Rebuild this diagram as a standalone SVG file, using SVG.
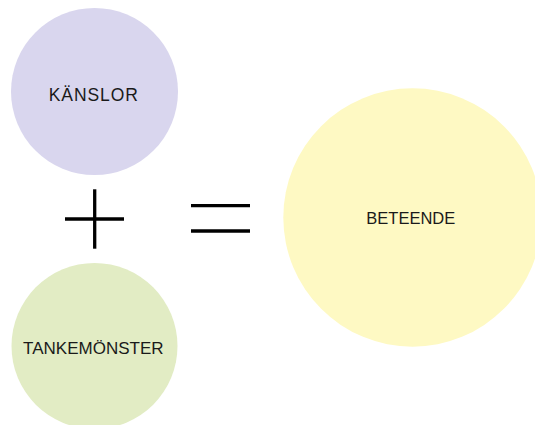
<svg xmlns="http://www.w3.org/2000/svg" width="535" height="425" viewBox="0 0 535 425">
<style>
.lbl{font-family:"Liberation Sans",Arial,Helvetica,sans-serif;fill:#1a1a1a;text-anchor:middle}
.op{stroke:#000;stroke-width:3.3;fill:none}
</style>
<rect width="535" height="425" fill="#fff"/>
<g id="kanslor">
<circle cx="94.5" cy="91.5" r="83.5" fill="#d9d6ee"/>
<text class="lbl" x="93.3" y="100.5" font-size="17.5" textLength="89" lengthAdjust="spacing">KÄNSLOR</text>
</g>
<g id="tankemonster">
<circle cx="94.5" cy="346" r="83" fill="#e2ecc4"/>
<text class="lbl" x="93.3" y="354" font-size="17">TANKEMÖNSTER</text>
</g>
<g id="beteende">
<circle cx="412.5" cy="217.5" r="129.2" fill="#fef9c3"/>
<text class="lbl" x="410.8" y="224" font-size="16.5">BETEENDE</text>
</g>
<g id="connectors">
<line class="op" x1="65" y1="219" x2="124" y2="219"/>
<line class="op" x1="94.7" y1="189.3" x2="94.7" y2="248.7"/>
<line class="op" x1="191" y1="205.7" x2="250" y2="205.7"/>
<line class="op" x1="191" y1="231" x2="250" y2="231"/>
</g>
</svg>
